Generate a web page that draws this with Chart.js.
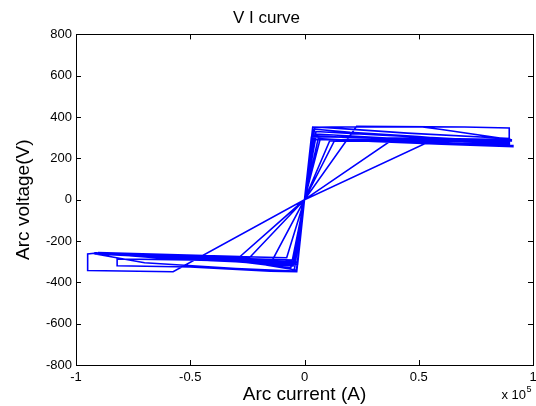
<!DOCTYPE html>
<html>
<head>
<meta charset="utf-8">
<script src="https://cdn.jsdelivr.net/npm/chart.js@4/dist/chart.umd.min.js"></script>
<style>
  html, body { margin: 0; padding: 0; background: #fff; }
  #wrap { width: 536px; height: 406px; }
</style>
</head>
<body>
<div id="wrap"><canvas id="vi"></canvas></div>
<script>
// arc current in units of 1e5 A, arc voltage in V
const current = [
  0, 0.036, 0.10, 0.45, 0.897, 0.90, 0.55, 0.20, 0.04,
  0, -0.575, -0.949, -0.949, -0.90, -0.45, -0.03,
  0, 0.228, 0.70, 0.896, 0.896, 0.60, 0.30, 0.05,
  0, -0.034, -0.15, -0.50, -0.82, -0.82, -0.50, -0.10, -0.04,
  0, 0.535, 0.912, 0.912, 0.60, 0.30, 0.06,
  0, -0.282, -0.90, -0.90, -0.50, -0.05,
  0, 0.04, 0.20, 0.50, 0.90, 0.70, 0.40, 0.10, 0.03,
  0, -0.24, -0.60, -0.88, -0.40, -0.03,
  0, 0.374, 0.88, 0.88, 0.50, 0.068,
  0, -0.14, -0.70, -0.86, -0.30, -0.035,
  0, 0.13, 0.60, 0.90, 0.50, 0.11,
  0, -0.078, -0.80, -0.40, -0.06,
  0, 0.045, 0.12, 0.517, 0.60, 0.905, 0.905, 0.40, 0.05,
  0, -0.045, -0.30, -0.70, -0.92, -0.60, -0.20, -0.05,
  0, 0.05, 0.30, 0.60, 0.90, 0.60, 0.20, 0.04,
  0, -0.05, -0.30, -0.60, -0.92, -0.70, -0.30, -0.04,
  0
];
const voltage = [
  0, 352, 349, 322, 296, 290, 282, 288, 292,
  0, -349, -343, -263, -257, -280, -302,
  0, 355, 352, 347, 291, 296, 300, 305,
  0, -348, -346, -326, -320, -287, -291, -302, -296,
  0, 275, 262, 257, 268, 282, 296,
  0, -275, -256, -260, -277, -292,
  0, 342, 326, 306, 268, 281, 295, 306, 302,
  0, -280, -270, -259, -286, -312,
  0, 283, 266, 271, 290, 291,
  0, -291, -266, -258, -292, -340,
  0, 283, 283, 276, 289, 284,
  0, -281, -262, -284, -330,
  0, 350, 352, 352, 340, 290, 284, 296, 318,
  0, -345, -333, -305, -262, -280, -305, -315,
  0, 330, 315, 298, 280, 290, 300, 310,
  0, -320, -300, -285, -258, -268, -290, -305,
  0
];
const xTicks = [-1, -0.5, 0, 0.5, 1];
const yTicks = [-800, -600, -400, -200, 0, 200, 400, 600, 800];

const points = current.map((c, i) => ({ x: c, y: voltage[i] }));
const fontFam = "Arial, 'Liberation Sans', sans-serif";

// matlab style box with inward ticks + the x 10^5 exponent
const matlabBox = {
  id: 'matlabBox',
  afterDraw(chart) {
    const ctx = chart.ctx;
    const a = chart.chartArea;
    const xs = chart.scales.x, ys = chart.scales.y;
    const len = 5;
    ctx.save();
    ctx.strokeStyle = '#000';
    ctx.lineWidth = 1;
    ctx.strokeRect(Math.round(a.left) + 0.5, Math.round(a.top) + 0.5,
      Math.round(a.right - a.left), Math.round(a.bottom - a.top));
    ctx.beginPath();
    xTicks.forEach(v => {
      const px = Math.round(xs.getPixelForValue(v)) + 0.5;
      ctx.moveTo(px, a.bottom); ctx.lineTo(px, a.bottom - len);
      ctx.moveTo(px, a.top); ctx.lineTo(px, a.top + len);
    });
    yTicks.forEach(v => {
      const py = Math.round(ys.getPixelForValue(v)) + 0.5;
      ctx.moveTo(a.left, py); ctx.lineTo(a.left + len, py);
      ctx.moveTo(a.right, py); ctx.lineTo(a.right - len, py);
    });
    ctx.stroke();
    ctx.fillStyle = '#000';
    ctx.textAlign = 'left';
    ctx.textBaseline = 'alphabetic';
    ctx.font = '13px ' + fontFam;
    const base = 'x 10';
    const w = ctx.measureText(base).width;
    const x0 = a.right - w - 7;
    ctx.fillText(base, x0, 399);
    ctx.font = '9px ' + fontFam;
    ctx.fillText('5', x0 + w + 0.5, 392);
    ctx.restore();
  }
};

const ctx = document.getElementById('vi').getContext('2d');
const viChart = new Chart(ctx, {
  type: 'scatter',
  data: {
    datasets: [{
      label: 'V I',
      data: points,
      showLine: true,
      borderColor: '#0000ff',
      borderWidth: 1.6,
      pointRadius: 0,
      tension: 0
    }]
  },
  options: {
    responsive: true,
    maintainAspectRatio: false,
    animation: false,
    layout: { padding: { left: 0, right: 3, top: 0, bottom: 0 } },
    plugins: {
      legend: { display: false },
      tooltip: { enabled: false },
      title: {
        display: true,
        text: 'V I curve',
        color: '#000',
        font: { family: fontFam, size: 17, weight: 'normal' },
        padding: { top: 8, bottom: 6 }
      }
    },
    scales: {
      x: {
        type: 'linear',
        min: -1, max: 1,
        afterBuildTicks: s => { s.ticks = xTicks.map(v => ({ value: v })); },
        afterFit: s => { s.height = 41; s.paddingLeft = 0; s.paddingRight = 0; },
        grid: { display: false, drawTicks: false },
        border: { display: false },
        ticks: {
          color: '#000', padding: 5, maxRotation: 0,
          font: { family: fontFam, size: 13 },
          callback: v => String(v)
        },
        title: {
          display: true, text: 'Arc current (A)', color: '#000',
          font: { family: fontFam, size: 19 }, padding: { top: 0, bottom: 0 }
        }
      },
      y: {
        type: 'linear',
        min: -800, max: 800,
        afterBuildTicks: s => { s.ticks = yTicks.map(v => ({ value: v })); },
        afterFit: s => { s.width = 76; },
        grid: { display: false, drawTicks: false },
        border: { display: false },
        ticks: { color: '#000', padding: 4, font: { family: fontFam, size: 13 } },
        title: {
          display: true, text: 'Arc voltage(V)', color: '#000',
          font: { family: fontFam, size: 19 }, padding: { top: 12, bottom: 0 }
        }
      }
    }
  },
  plugins: [matlabBox]
});
</script>
</body>
</html>
